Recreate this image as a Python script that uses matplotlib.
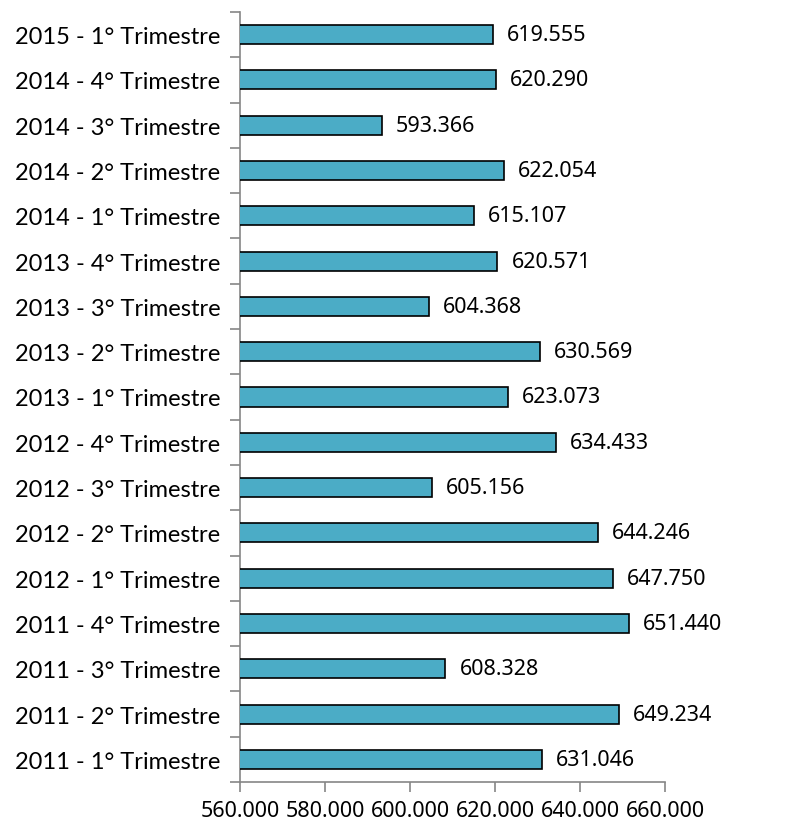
import matplotlib.pyplot as plt
import numpy as np

plt.rcParams['font.family'] = ['Lato', 'DejaVu Sans']

periodos = ['2011 - 1° Trimestre', '2011 - 2° Trimestre', '2011 - 3° Trimestre', '2011 - 4° Trimestre',
            '2012 - 1° Trimestre', '2012 - 2° Trimestre', '2012 - 3° Trimestre', '2012 - 4° Trimestre',
            '2013 - 1° Trimestre', '2013 - 2° Trimestre', '2013 - 3° Trimestre', '2013 - 4° Trimestre',
            '2014 - 1° Trimestre', '2014 - 2° Trimestre', '2014 - 3° Trimestre', '2014 - 4° Trimestre',
            '2015 - 1° Trimestre']
valores = [631046, 649234, 608328, 651440,
           647750, 644246, 605156, 634433,
           623073, 630569, 604368, 620571,
           615107, 622054, 593366, 620290,
           619555]
xticks = [560000, 580000, 600000, 620000, 640000, 660000]


def fmt(v):
    return f'{v:,}'.replace(',', '.')


num_font = ['Noto Sans', 'DejaVu Sans']

fig = plt.figure(figsize=(7.9, 8.29), dpi=100)
ax = fig.add_axes([240/790, 1 - 783/829, 425/790, 770/829])

y = np.arange(len(periodos))
ax.barh(y, valores, height=0.42, color='#4BACC6', edgecolor='black', linewidth=1.2, zorder=3)
for yi, v in zip(y, valores):
    ax.text(v + 3300, yi, fmt(v), va='center', ha='left', fontsize=15.5, family=num_font)

ax.set_xlim(560000, 660000)
ax.set_ylim(-0.5, len(periodos) - 0.5)
ax.set_xticks(xticks)
ax.set_xticklabels([fmt(t) for t in xticks], fontsize=15.5, family=num_font)
ax.set_yticks(y)
ax.set_yticklabels(periodos, fontsize=17)
ax.set_yticks(np.arange(-0.5, len(periodos), 1), minor=True)

ax.tick_params(axis='y', which='major', length=0, pad=14)
ax.tick_params(axis='y', which='minor', length=7, color='#868686', width=1.2)
ax.tick_params(axis='x', which='major', length=7, color='#868686', width=1.2, pad=6)

for s in ['top', 'right']:
    ax.spines[s].set_visible(False)
for s in ['left', 'bottom']:
    ax.spines[s].set_color('#868686')
    ax.spines[s].set_linewidth(1.2)

fig.savefig('out.png', dpi=100)
